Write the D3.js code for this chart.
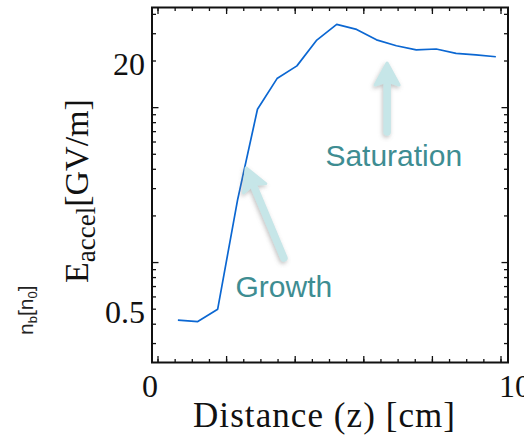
<!DOCTYPE html>
<html>
<head>
<meta charset="utf-8">
<script src="https://cdn.jsdelivr.net/npm/d3@7"></script>
<style>
  html, body { margin: 0; padding: 0; background: #fff; }
  svg { display: block; }
  .serif { font-family: "Liberation Serif", "Times New Roman", serif; fill: #111; }
  .note { font-family: "Liberation Sans", Arial, sans-serif; fill: #3e8d92; }
</style>
</head>
<body>
<div id="root"></div>
<script>
"use strict";

// distance along the plasma [cm] and accelerating field [GV/m]
var distance = [0.58, 1.16, 1.74, 2.32, 2.90, 3.47, 4.05, 4.63, 5.21,
                5.79, 6.37, 6.95, 7.53, 8.11, 8.69, 9.27, 9.85];
var eAccel = [0.425, 0.416, 0.500, 2.54, 9.77, 15.4, 18.6, 27.3, 34.5,
              32.0, 27.4, 25.1, 23.6, 23.9, 22.4, 21.9, 21.3];

var xTickLabels = [0, 10];
var yTickLabels = [20, 0.5];

// annotations: label position, arrow tail, arrow tip (data units)
var notes = [
    { text: "Growth", at: [2.26, 0.595], tail: [3.67, 1.07], tip: [2.57, 4.08] },
    { text: "Saturation", at: [4.88, 4.2], tail: [6.68, 6.97], tip: [6.68, 19.4] }
];

var width = 524,
    height = 439,
    margin = { top: 7.5, right: 16, bottom: 76.5, left: 152 };

var svg = d3.select("#root").append("svg")
    .attr("width", width)
    .attr("height", height);

var defs = svg.append("defs");
var shadow = defs.append("filter")
    .attr("id", "shadow")
    .attr("x", "-50%").attr("y", "-50%")
    .attr("width", "200%").attr("height", "200%");
shadow.append("feDropShadow")
    .attr("dx", -1).attr("dy", 2)
    .attr("stdDeviation", 2)
    .attr("flood-color", "#777")
    .attr("flood-opacity", 0.45);

var x = d3.scaleLinear()
    .domain([-0.175, 10.204])
    .range([margin.left, width - margin.right]);

var y = d3.scaleLog()
    .domain([0.2264, 44.3])
    .range([height - margin.bottom, margin.top]);

var x0 = x.range()[0], x1 = x.range()[1],
    y0 = y.range()[0], y1 = y.range()[1];

// ---- ticks (inward, on all four sides)
var xMinor = d3.range(0, 10.01, 0.5),
    xMajor = d3.range(0, 10.01, 2);

function yMinorTicks() {
    var t = [];
    [0.1, 1, 10].forEach(function (dec) {
        for (var k = 2; k <= 9; k++) {
            var v = k * dec;
            if (v >= y.domain()[0] && v <= y.domain()[1]) t.push(v);
        }
    });
    return t;
}
var yMinor = yMinorTicks(),
    yMajor = [1, 10];

var ticks = svg.append("g")
    .attr("stroke", "#111")
    .attr("stroke-width", 1.3);

function vTicks(vals, len) {
    ticks.selectAll(null).data(vals).enter().append("line")
        .attr("x1", function (d) { return x(d); })
        .attr("x2", function (d) { return x(d); })
        .attr("y1", y0).attr("y2", y0 - len);
    ticks.selectAll(null).data(vals).enter().append("line")
        .attr("x1", function (d) { return x(d); })
        .attr("x2", function (d) { return x(d); })
        .attr("y1", y1).attr("y2", y1 + len);
}
function hTicks(vals, len) {
    ticks.selectAll(null).data(vals).enter().append("line")
        .attr("y1", function (d) { return y(d); })
        .attr("y2", function (d) { return y(d); })
        .attr("x1", x0).attr("x2", x0 + len);
    ticks.selectAll(null).data(vals).enter().append("line")
        .attr("y1", function (d) { return y(d); })
        .attr("y2", function (d) { return y(d); })
        .attr("x1", x1).attr("x2", x1 - len);
}
vTicks(xMinor, 3.5);
vTicks(xMajor, 6.5);
hTicks(yMinor, 4);
hTicks(yMajor, 6.5);

// frame
svg.append("rect")
    .attr("x", x0).attr("y", y1)
    .attr("width", x1 - x0).attr("height", y0 - y1)
    .attr("fill", "none")
    .attr("stroke", "#111")
    .attr("stroke-width", 2);

// ---- data line
var line = d3.line()
    .x(function (d, i) { return x(distance[i]); })
    .y(function (d) { return y(d); });

svg.append("path")
    .datum(eAccel)
    .attr("d", line)
    .attr("fill", "none")
    .attr("stroke", "#0b67d2")
    .attr("stroke-width", 1.7)
    .attr("stroke-linejoin", "round");

// ---- tick labels
svg.selectAll(".ylab").data(yTickLabels).enter().append("text")
    .attr("class", "serif ylab")
    .attr("x", x0 - 7)
    .attr("y", function (d) { return y(d) + 14; })
    .attr("text-anchor", "end")
    .style("font-size", "32px")
    .text(function (d) { return d; });

svg.selectAll(".xlab").data(xTickLabels).enter().append("text")
    .attr("class", "serif xlab")
    .attr("x", function (d) { return d === 0 ? x(d) - 8 : x(d) - 2; })
    .attr("y", y0 + 34.5)
    .attr("text-anchor", function (d) { return d === 0 ? "middle" : "start"; })
    .style("font-size", "32px")
    .text(function (d) { return d; });

// ---- axis titles
svg.append("text")
    .attr("class", "serif")
    .attr("x", 193)
    .attr("y", 427)
    .attr("textLength", 262)
    .attr("lengthAdjust", "spacing")
    .style("font-size", "35px")
    .text("Distance (z) [cm]");

var ylab = svg.append("text")
    .attr("class", "serif")
    .attr("transform", "translate(88,283) rotate(-90)")
    .style("font-size", "34px");
ylab.append("tspan").text("E");
ylab.append("tspan").attr("dy", 7).style("font-size", "27px").text("accel");
ylab.append("tspan").attr("dy", -7).text("[GV/m]");

// leftover label from the neighbouring panel
var nlab = svg.append("text")
    .attr("transform", "translate(33,335) rotate(-90)")
    .style("font-family", "'Liberation Sans', Arial, sans-serif")
    .style("font-size", "21px")
    .attr("fill", "#222");
nlab.append("tspan").text("n");
nlab.append("tspan").attr("dy", 4).style("font-size", "13px").text("b");
nlab.append("tspan").attr("dy", -4).text("[n");
nlab.append("tspan").attr("dy", 4).style("font-size", "13px").text("0");
nlab.append("tspan").attr("dy", -4).text("]");

// ---- annotation arrows
function arrow(g, tail, tip) {
    var ax = x(tail[0]), ay = y(tail[1]),
        bx = x(tip[0]), by = y(tip[1]),
        dx = bx - ax, dy = by - ay,
        len = Math.sqrt(dx * dx + dy * dy),
        ux = dx / len, uy = dy / len,
        headLen = 22, half = 12,
        baseX = bx - ux * headLen, baseY = by - uy * headLen;

    var a = g.append("g").attr("filter", "url(#shadow)");
    a.append("line")
        .attr("x1", ax).attr("y1", ay)
        .attr("x2", baseX + ux * 4).attr("y2", baseY + uy * 4)
        .attr("stroke", "#c6e6e8")
        .attr("stroke-width", 7.5)
        .attr("stroke-linecap", "round");
    a.append("path")
        .attr("d", "M" + bx + "," + by +
            "L" + (baseX - uy * half) + "," + (baseY + ux * half) +
            "L" + (baseX + ux * 4) + "," + (baseY + uy * 4) +
            "L" + (baseX + uy * half) + "," + (baseY - ux * half) + "Z")
        .attr("fill", "#c6e6e8")
        .attr("stroke", "#c6e6e8")
        .attr("stroke-width", 3)
        .attr("stroke-linejoin", "round");
}

var ann = svg.append("g");
notes.forEach(function (n) {
    arrow(ann, n.tail, n.tip);
    ann.append("text")
        .attr("class", "note")
        .attr("x", x(n.at[0]))
        .attr("y", y(n.at[1]))
        .style("font-size", "30px")
        .text(n.text);
});
</script>
</body>
</html>
